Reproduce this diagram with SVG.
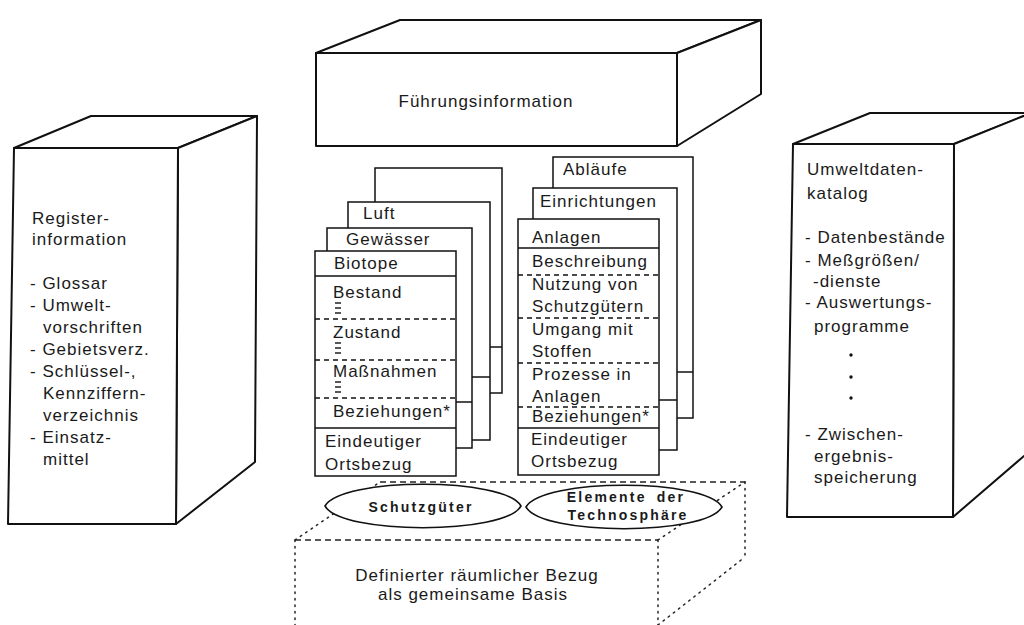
<svg xmlns="http://www.w3.org/2000/svg" width="1024" height="625" viewBox="0 0 1024 625">
  <defs>
    <style>
      .edge { fill: none; stroke: #111; stroke-width: 2; stroke-linejoin: round; }
      .face { fill: #fff; stroke: #111; stroke-width: 2; stroke-linejoin: round; }
      .card { fill: #fff; stroke: #111; stroke-width: 1.5; }
      .rule { stroke: #111; stroke-width: 1.5; }
      .dash { stroke: #111; stroke-width: 1.4; stroke-dasharray: 5 4; }
      .tick { stroke: #111; stroke-width: 1.4; }
      .hid { fill: none; stroke: #222; stroke-width: 1.3; stroke-dasharray: 6 4; }
      .dot { fill: none; stroke: #222; stroke-width: 1.5; stroke-dasharray: 1.5 5; stroke-linecap: round; }
      .oval { fill: #fff; stroke: #111; stroke-width: 1.6; stroke-linejoin: round; }
      text { font-family: "Liberation Sans", Arial, sans-serif; font-size: 17px; letter-spacing: 1px; fill: #1a1a1a; }
      .bold { font-weight: bold; font-size: 14px; letter-spacing: 2.2px; }
      .mid { text-anchor: middle; }
    </style>
  </defs>
  <rect width="1024" height="625" fill="#fff"/>

  <!-- Register cube (left) -->
  <g id="register">
    <path class="face" d="M14,148 L91,116 L257,116 L178,148 Z"/>
    <path class="face" d="M178,148 L257,116 L255,462 L176,524 Z"/>
    <path class="face" d="M14,148 L178,148 L176,524 L8,524 Z"/>
    <text x="32" y="224">Register-</text>
    <text x="32" y="245">information</text>
    <text x="30" y="289">- Glossar</text>
    <text x="30" y="311">- Umwelt-</text>
    <text x="43" y="333">vorschriften</text>
    <text x="30" y="355">- Gebietsverz.</text>
    <text x="30" y="377">- Schlüssel-,</text>
    <text x="43" y="399">Kennziffern-</text>
    <text x="43" y="421">verzeichnis</text>
    <text x="30" y="443">- Einsatz-</text>
    <text x="43" y="465">mittel</text>
  </g>

  <!-- Führungsinformation block (top) -->
  <g id="fuehrung">
    <path class="face" d="M316,53 L400,20 L761,20 L677,53 Z"/>
    <path class="face" d="M677,53 L761,20 L761,94 L677,146 Z"/>
    <path class="face" d="M316,53 L677,53 L677,146 L316,146 Z"/>
    <text class="mid" x="486" y="107">Führungsinformation</text>
  </g>

  <!-- Umweltdatenkatalog cube (right) -->
  <g id="katalog">
    <path class="face" d="M793,144 L870,113 L1031,113 L954,144 Z"/>
    <path class="face" d="M954,144 L1031,113 L1031,450 L953,517 Z"/>
    <path class="face" d="M793,144 L954,144 L953,517 L787,517 Z"/>
    <text x="807" y="175">Umweltdaten-</text>
    <text x="807" y="199">katalog</text>
    <text x="805" y="243">- Datenbestände</text>
    <text x="805" y="266">- Meßgrößen/</text>
    <text x="813" y="287">-dienste</text>
    <text x="805" y="308">- Auswertungs-</text>
    <text x="814" y="332">programme</text>
    <circle cx="851" cy="355" r="1.7" fill="#111"/>
    <circle cx="851" cy="377" r="1.7" fill="#111"/>
    <circle cx="851" cy="398" r="1.7" fill="#111"/>
    <text x="805" y="440">- Zwischen-</text>
    <text x="814" y="462">ergebnis-</text>
    <text x="814" y="483">speicherung</text>
  </g>

  <!-- Stack of protected-good cards -->
  <g id="stack-schutzgueter">
    <rect class="card" x="375" y="168" width="127" height="225"/>
    <line class="rule" x1="375" y1="347" x2="502" y2="347"/>
    <rect class="card" x="348" y="202" width="142" height="238"/>
    <line class="rule" x1="348" y1="377" x2="490" y2="377"/>
    <text x="363" y="219">Luft</text>
    <rect class="card" x="327" y="228" width="145" height="220"/>
    <line class="rule" x1="327" y1="402" x2="472" y2="402"/>
    <text x="346" y="245">Gewässer</text>
    <rect class="card" x="315" y="251" width="141" height="225"/>
    <text x="334" y="269">Biotope</text>
    <line class="rule" x1="315" y1="276" x2="456" y2="276"/>
    <text x="333" y="298">Bestand</text>
    <line class="tick" x1="335" y1="303" x2="341" y2="303"/>
    <line class="tick" x1="335" y1="308" x2="341" y2="308"/>
    <line class="tick" x1="335" y1="313" x2="341" y2="313"/>
    <line class="dash" x1="315" y1="319" x2="456" y2="319"/>
    <text x="333" y="338">Zustand</text>
    <line class="tick" x1="335" y1="343" x2="341" y2="343"/>
    <line class="tick" x1="335" y1="348" x2="341" y2="348"/>
    <line class="tick" x1="335" y1="353" x2="341" y2="353"/>
    <line class="dash" x1="315" y1="360" x2="456" y2="360"/>
    <text x="333" y="377">Maßnahmen</text>
    <line class="tick" x1="335" y1="382" x2="341" y2="382"/>
    <line class="tick" x1="335" y1="387" x2="341" y2="387"/>
    <line class="tick" x1="335" y1="392" x2="341" y2="392"/>
    <line class="dash" x1="315" y1="398" x2="456" y2="398"/>
    <text x="333" y="417">Beziehungen*</text>
    <line class="rule" x1="315" y1="428" x2="456" y2="428"/>
    <text x="325" y="447">Eindeutiger</text>
    <text x="325" y="470">Ortsbezug</text>
  </g>

  <!-- Stack of technosphere cards -->
  <g id="stack-technosphaere">
    <rect class="card" x="553" y="157" width="140" height="261"/>
    <line class="rule" x1="553" y1="372" x2="693" y2="372"/>
    <text x="563" y="175">Abläufe</text>
    <rect class="card" x="533" y="188" width="144" height="262"/>
    <line class="rule" x1="533" y1="400" x2="677" y2="400"/>
    <text x="540" y="207">Einrichtungen</text>
    <rect class="card" x="518" y="219" width="141" height="256"/>
    <text x="532" y="243">Anlagen</text>
    <line class="rule" x1="518" y1="248" x2="659" y2="248"/>
    <text x="532" y="267">Beschreibung</text>
    <line class="dash" x1="518" y1="275" x2="659" y2="275"/>
    <text x="532" y="290">Nutzung von</text>
    <text x="532" y="312">Schutzgütern</text>
    <line class="dash" x1="518" y1="318" x2="659" y2="318"/>
    <text x="532" y="335">Umgang mit</text>
    <text x="532" y="357">Stoffen</text>
    <line class="dash" x1="518" y1="363" x2="659" y2="363"/>
    <text x="532" y="380">Prozesse in</text>
    <text x="532" y="402">Anlagen</text>
    <line class="dash" x1="518" y1="407" x2="659" y2="407"/>
    <text x="532" y="422">Beziehungen*</text>
    <line class="rule" x1="518" y1="428" x2="659" y2="428"/>
    <text x="531" y="445">Eindeutiger</text>
    <text x="531" y="467">Ortsbezug</text>
  </g>

  <!-- Dashed base block: shared spatial reference -->
  <g id="basis">
    <line class="hid" x1="380" y1="482" x2="745" y2="482"/>
    <line class="dot" x1="745" y1="482" x2="745" y2="557"/>
    <line class="dot" x1="295" y1="540" x2="380" y2="482"/>
    <line class="dot" x1="658" y1="540" x2="745" y2="482"/>
    <line class="dot" x1="658" y1="625" x2="745" y2="557"/>
    <line class="hid" x1="295" y1="540" x2="658" y2="540"/>
    <line class="dot" x1="295" y1="540" x2="295" y2="625"/>
    <line class="dot" x1="658" y1="540" x2="658" y2="625"/>
    <text class="mid" x="477" y="581">Definierter räumlicher Bezug</text>
    <text class="mid" x="473" y="600">als gemeinsame Basis</text>
  </g>

  <!-- Lens-shaped labels resting on the base -->
  <g id="schutzgueter">
    <path class="oval" d="M325,506 C341,477 505,477 521,506 C505,535 341,535 325,506 Z"/>
    <text class="bold mid" x="421" y="512">Schutzgüter</text>
  </g>

  <g id="technosphaere">
    <path class="oval" d="M526,507 C542,478 706,478 722,507 C706,536 542,536 526,507 Z"/>
    <text class="bold mid" x="626" y="502" word-spacing="4">Elemente der</text>
    <text class="bold mid" x="628" y="520">Technosphäre</text>
  </g>
</svg>
